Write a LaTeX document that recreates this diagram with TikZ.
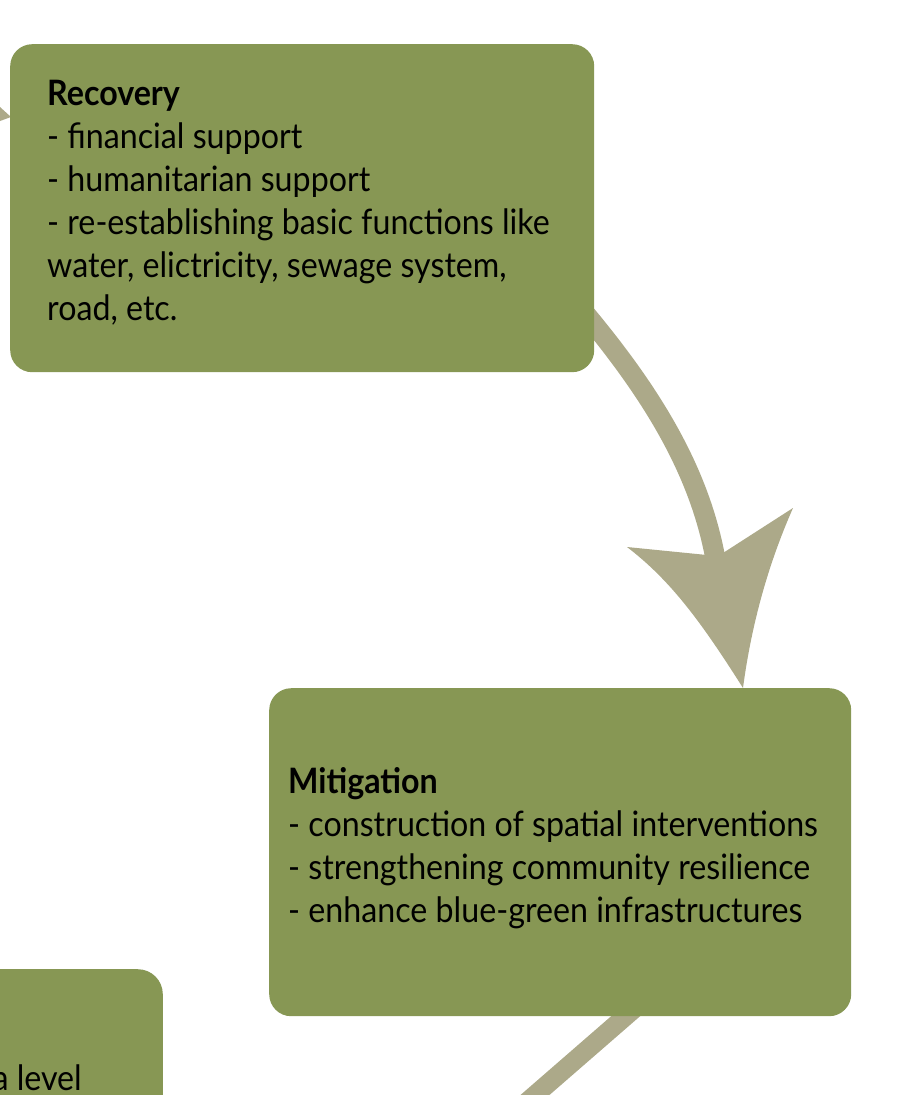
\documentclass[tikz,border=0pt]{standalone}
\usepackage{fontspec}
\setmainfont{Lato}[FakeStretch=0.92]
\definecolor{boxgreen}{RGB}{135,151,84}
\definecolor{arrowgray}{RGB}{172,169,137}
\begin{document}
\begin{tikzpicture}[x=1pt,y=-1pt,
  phasebox/.style={fill=boxgreen,draw=none,rounded corners=22pt,inner sep=0pt},
  phasetext/.style={align=left,inner sep=0pt,font=\fontsize{35}{43}\selectfont,text=black},
  shaft/.style={draw=arrowgray,line width=20pt,line cap=butt},
  headfill/.style={fill=arrowgray,draw=none}]
\useasboundingbox (0,0) rectangle (899,1095);
% arrows (drawn first, boxes cover their starts)
\coordinate (a1s) at (578,305);
\coordinate (a1e) at (716,562);
\draw[shaft] (a1s) .. controls (650,390) and (700,470) .. (a1e);
\coordinate (tip1) at (743,688);
\path[headfill] (tip1) .. controls (700,620) and (670,580) .. (627,547) -- (707,555) -- (723,553) -- (793,508) .. controls (770,560) and (752,620) .. (tip1) -- cycle;
\coordinate (a2s) at (650,995);
\coordinate (a2e) at (520,1108);
\draw[shaft,line width=19pt] (a2s) -- (a2e);
\coordinate (tip0) at (11,117);
\path[headfill] (0,107) -- (tip0) -- (0,121) -- cycle;
% boxes
\node[phasebox,minimum width=584pt,minimum height=328pt,anchor=north west] (rec) at (10,44) {};
\node[phasebox,minimum width=582pt,minimum height=328pt,anchor=north west] (mit) at (269,688) {};
\node[phasebox,minimum width=200pt,minimum height=180pt,anchor=north east,rounded corners=25pt] (prep) at (163,969) {};
% texts
\node[phasetext,anchor=north west] (rectext) at (47,80) {\textbf{Recovery}\\- financial support\\- humanitarian support\\- re-establishing basic functions like\\water, elictricity, sewage system,\\road, etc.};
\node[phasetext,anchor=north west] (mittext) at (288,767) {\textbf{Mitigation}\\- construction of spatial interventions\\- strengthening community resilience\\- enhance blue-green infrastructures};
\node[phasetext,anchor=base east] (preptext) at (82,1090) {a level};
\end{tikzpicture}
\end{document}
